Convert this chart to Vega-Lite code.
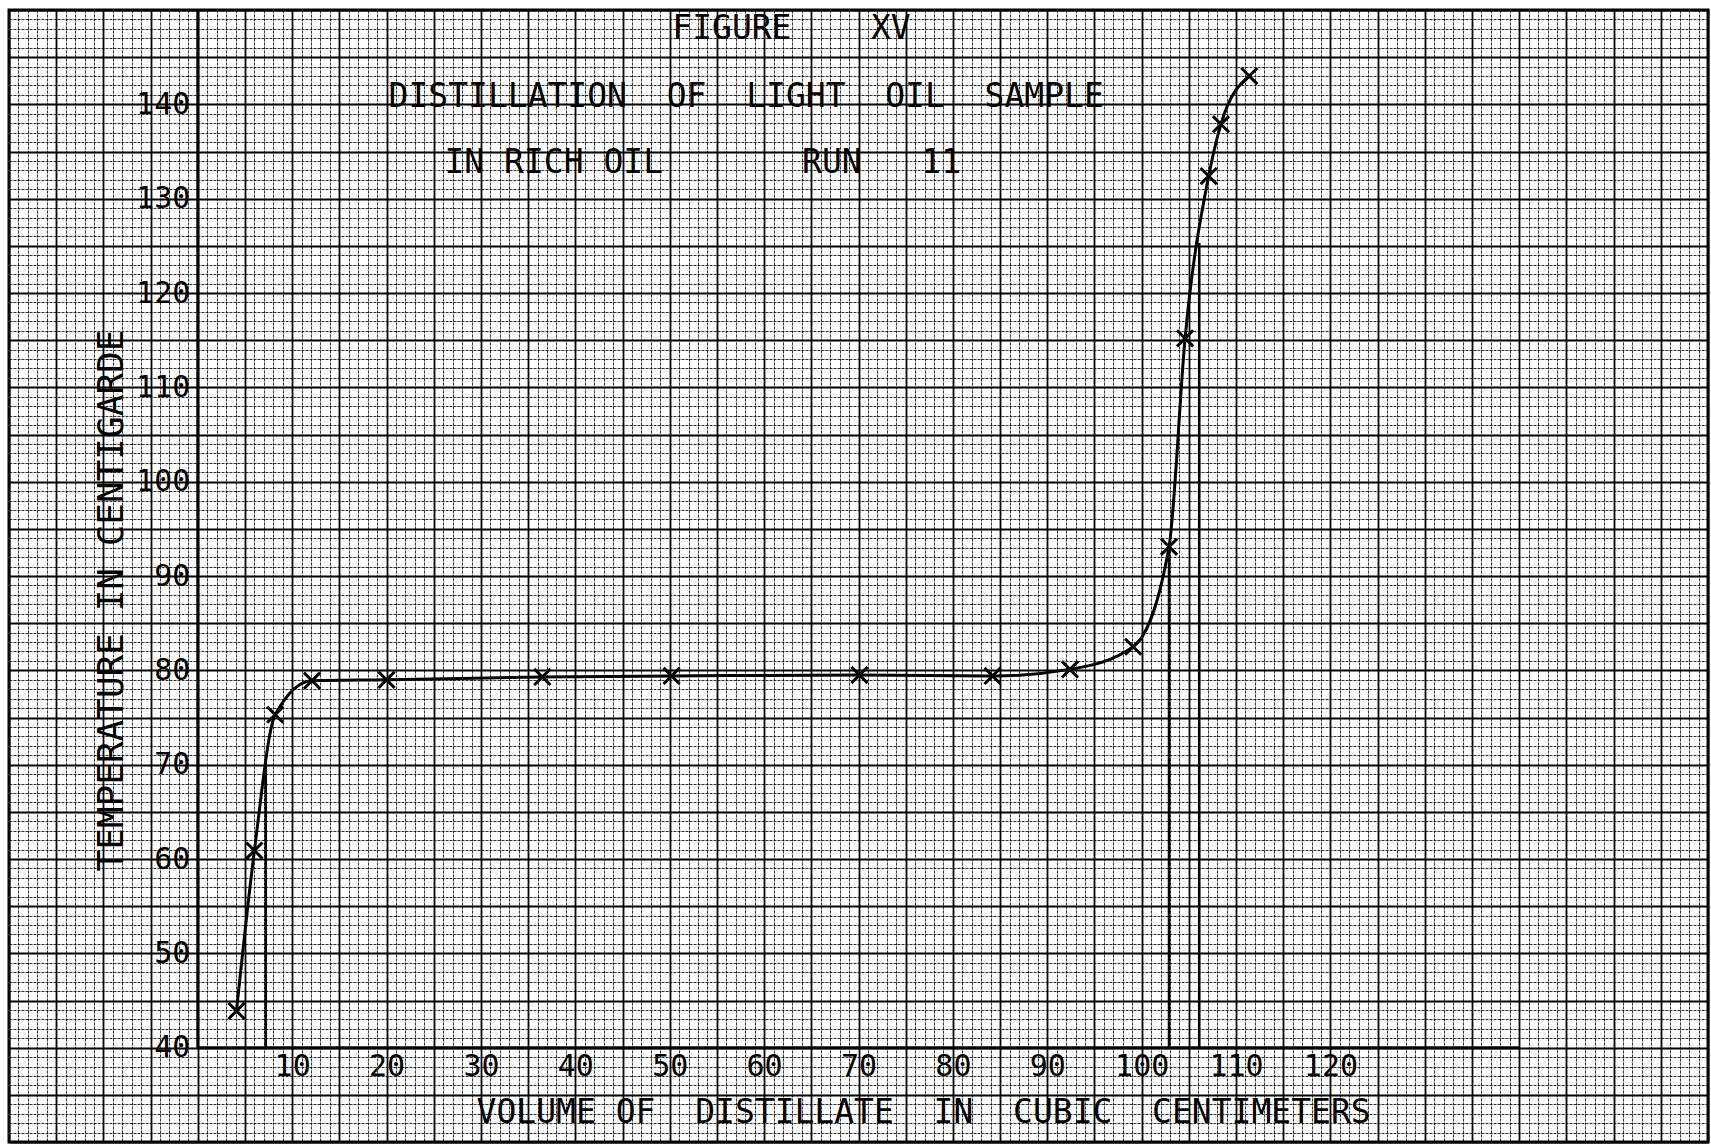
{
  "$schema": "https://vega.github.io/schema/vega-lite/v6.json",
  "width": 1699,
  "height": 1132,
  "autosize": {"type": "none"},
  "padding": {"left": 9, "top": 10, "right": 3, "bottom": 2},
  "background": "white",
  "config": {"view": {"stroke": "black", "strokeWidth": 3}},
  "datasets": {
    "distillation": [
      {"volume": 4.1, "temp": 43.9},
      {"volume": 6.0, "temp": 60.9},
      {"volume": 8.2, "temp": 75.3},
      {"volume": 12.1, "temp": 78.9},
      {"volume": 20.0, "temp": 79.0},
      {"volume": 36.5, "temp": 79.3},
      {"volume": 50.2, "temp": 79.4},
      {"volume": 70.1, "temp": 79.5},
      {"volume": 84.2, "temp": 79.4},
      {"volume": 92.4, "temp": 80.1},
      {"volume": 99.1, "temp": 82.5},
      {"volume": 102.9, "temp": 93.1},
      {"volume": 104.6, "temp": 115.2},
      {"volume": 107.1, "temp": 132.4},
      {"volume": 108.4, "temp": 137.9},
      {"volume": 111.4, "temp": 143.0}
    ],
    "cuts": [
      {"volume": 7.2, "temp": 70.3},
      {"volume": 102.9, "temp": 93.1},
      {"volume": 106.1, "temp": 125.3}
    ],
    "single": [{"n": 1}]
  },
  "resolve": {"axis": {"x": "independent", "y": "independent"}},
  "layer": [
    {
      "data": {"name": "distillation"},
      "mark": {"type": "point", "opacity": 0},
      "encoding": {
        "x": {"field": "volume", "type": "quantitative",
          "scale": {"domain": [-20, 160], "nice": false, "zero": false},
          "axis": {"orient": "bottom", "grid": true, "tickCount": 180, "gridColor": "black", "gridOpacity": 0.8, "gridWidth": 1, "gridDash": [3, 1], "labels": false, "ticks": false, "domain": false, "title": null}},
        "y": {"field": "temp", "type": "quantitative",
          "scale": {"domain": [30, 150], "nice": false, "zero": false},
          "axis": {"orient": "left", "grid": true, "tickCount": 120, "gridColor": "black", "gridOpacity": 0.8, "gridWidth": 1, "gridDash": [3, 1], "labels": false, "ticks": false, "domain": false, "title": null}}
      }
    },
    {
      "data": {"name": "distillation"},
      "mark": {"type": "point", "opacity": 0},
      "encoding": {
        "x": {"field": "volume", "type": "quantitative",
          "axis": {"orient": "bottom", "grid": true, "tickCount": 36, "gridColor": "black", "gridWidth": 1.8, "labels": false, "ticks": false, "domain": false, "title": null}},
        "y": {"field": "temp", "type": "quantitative",
          "axis": {"orient": "left", "grid": true, "tickCount": 24, "gridColor": "black", "gridWidth": 1.8, "labels": false, "ticks": false, "domain": false, "title": null}}
      }
    },
    {
      "data": {"name": "single"},
      "mark": {"type": "rule", "stroke": "black", "strokeWidth": 3},
      "encoding": {
        "x": {"datum": 0, "type": "quantitative", "axis": null},
        "x2": {"datum": 140},
        "y": {"datum": 40, "type": "quantitative", "axis": null}
      }
    },
    {
      "data": {"name": "single"},
      "mark": {"type": "rule", "stroke": "black", "strokeWidth": 3},
      "encoding": {
        "x": {"datum": 0, "type": "quantitative", "axis": null},
        "y": {"datum": 40, "type": "quantitative", "axis": null},
        "y2": {"datum": 150}
      }
    },
    {
      "data": {"name": "cuts"},
      "mark": {"type": "rule", "stroke": "black", "strokeWidth": 2.6},
      "encoding": {
        "x": {"field": "volume", "type": "quantitative", "axis": null},
        "y": {"field": "temp", "type": "quantitative", "axis": null},
        "y2": {"datum": 40}
      }
    },
    {
      "data": {"name": "distillation"},
      "mark": {"type": "line", "interpolate": "monotone", "stroke": "black", "strokeWidth": 3},
      "encoding": {
        "x": {"field": "volume", "type": "quantitative", "axis": null},
        "y": {"field": "temp", "type": "quantitative", "axis": null}
      }
    },
    {
      "data": {"name": "distillation"},
      "mark": {"type": "point", "shape": "M-1,-1L1,1M-1,1L1,-1", "filled": false, "stroke": "black", "strokeWidth": 3, "size": 260, "opacity": 1},
      "encoding": {
        "x": {"field": "volume", "type": "quantitative",
          "axis": {"orient": "bottom", "values": [10, 20, 30, 40, 50, 60, 70, 80, 90, 100, 110, 120], "offset": -94.3, "grid": false, "ticks": false, "tickSize": 0, "domain": false, "labelFont": "DejaVu Sans Mono", "labelFontSize": 30, "labelColor": "black", "labelPadding": 4, "labelOverlap": false, "labelFlush": false, "title": null}},
        "y": {"field": "temp", "type": "quantitative",
          "axis": {"orient": "left", "values": [40, 50, 60, 70, 80, 90, 100, 110, 120, 130, 140], "offset": -188.8, "grid": false, "ticks": false, "tickSize": 0, "domain": false, "labelFont": "DejaVu Sans Mono", "labelFontSize": 30, "labelColor": "black", "labelPadding": 8, "labelOverlap": false, "labelFlush": false, "title": null}}
      }
    },
    {
      "data": {"name": "single"},
      "mark": {"type": "text", "font": "DejaVu Sans Mono", "fontSize": 33, "align": "center", "baseline": "middle", "color": "black"},
      "encoding": {
        "x": {"datum": 62.9, "type": "quantitative", "axis": null},
        "y": {"datum": 148.0, "type": "quantitative", "axis": null},
        "text": {"value": "FIGURE\u00a0\u00a0\u00a0\u00a0XV"}
      }
    },
    {
      "data": {"name": "single"},
      "mark": {"type": "text", "font": "DejaVu Sans Mono", "fontSize": 33, "align": "center", "baseline": "middle", "color": "black"},
      "encoding": {
        "x": {"datum": 58.1, "type": "quantitative", "axis": null},
        "y": {"datum": 140.8, "type": "quantitative", "axis": null},
        "text": {"value": "DISTILLATION\u00a0\u00a0OF\u00a0\u00a0LIGHT\u00a0\u00a0OIL\u00a0\u00a0SAMPLE"}
      }
    },
    {
      "data": {"name": "single"},
      "mark": {"type": "text", "font": "DejaVu Sans Mono", "fontSize": 33, "align": "center", "baseline": "middle", "color": "black"},
      "encoding": {
        "x": {"datum": 53.5, "type": "quantitative", "axis": null},
        "y": {"datum": 133.8, "type": "quantitative", "axis": null},
        "text": {"value": "IN RICH OIL\u00a0\u00a0\u00a0\u00a0\u00a0\u00a0\u00a0RUN\u00a0\u00a0\u00a011"}
      }
    },
    {
      "data": {"name": "single"},
      "mark": {"type": "text", "font": "DejaVu Sans Mono", "fontSize": 33, "align": "center", "baseline": "middle", "color": "black"},
      "encoding": {
        "x": {"datum": 76.9, "type": "quantitative", "axis": null},
        "y": {"datum": 33.1, "type": "quantitative", "axis": null},
        "text": {"value": "VOLUME OF\u00a0\u00a0DISTILLATE\u00a0\u00a0IN\u00a0\u00a0CUBIC\u00a0\u00a0CENTIMETERS"}
      }
    },
    {
      "data": {"name": "single"},
      "mark": {"type": "text", "font": "DejaVu Sans Mono", "fontSize": 36, "align": "center", "baseline": "middle", "color": "black", "angle": 270},
      "encoding": {
        "x": {"datum": -9.1, "type": "quantitative", "axis": null},
        "y": {"datum": 87.4, "type": "quantitative", "axis": null},
        "text": {"value": "TEMPERATURE IN CENTIGARDE"}
      }
    }
  ]
}
